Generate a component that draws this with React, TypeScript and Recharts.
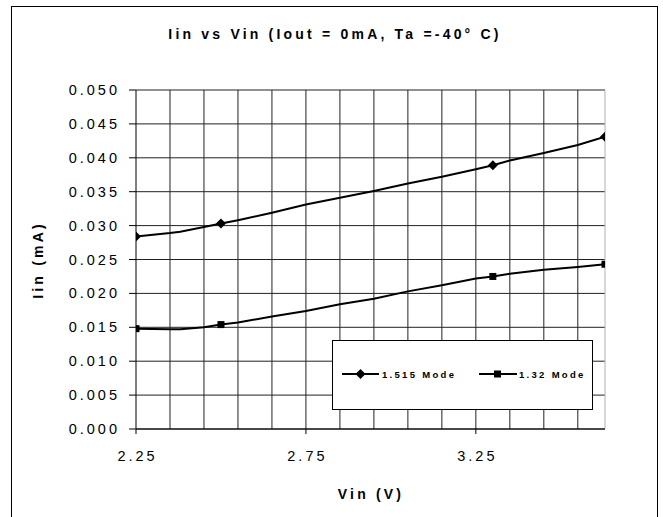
import React from 'react';
import { ComposedChart, Line, Scatter, XAxis, YAxis, CartesianGrid, ReferenceLine } from 'recharts';

// Vin (V) sample points
const vin = [2.25, 2.35, 2.38, 2.45, 2.5, 2.55, 2.65, 2.75, 2.85, 2.95, 3.05, 3.15, 3.25, 3.3, 3.35, 3.45, 3.55, 3.63];
// Iin (mA)
const mode1515 = [0.0284, 0.0289, 0.0291, 0.0298, 0.0303, 0.0308, 0.0319, 0.0331, 0.0341, 0.0351, 0.0362, 0.0372, 0.0383, 0.0389, 0.0396, 0.0407, 0.0419, 0.0431];
const mode132 = [0.0148, 0.0147, 0.0147, 0.015, 0.0154, 0.0157, 0.0166, 0.0174, 0.0184, 0.0192, 0.0203, 0.0212, 0.0222, 0.0225, 0.0229, 0.0235, 0.0239, 0.0243];
// points that carry a marker
const markerVin = [2.25, 2.5, 3.3, 3.63];

const xTicks = [2.25, 2.75, 3.25];
const xGrid = [2.35, 2.45, 2.55, 2.65, 2.75, 2.85, 2.95, 3.05, 3.15, 3.25, 3.35, 3.45, 3.55];
const yTicks = [0, 0.005, 0.01, 0.015, 0.02, 0.025, 0.03, 0.035, 0.04, 0.045, 0.05];

const FONT = '"Liberation Sans", Arial, sans-serif';

const rows1515 = vin.map((v, i) => ({ vin: v, iin: mode1515[i] }));
const rows132 = vin.map((v, i) => ({ vin: v, iin: mode132[i] }));
const marks1515 = rows1515.filter((r) => markerVin.includes(r.vin));
const marks132 = rows132.filter((r) => markerVin.includes(r.vin));

const Diamond = ({ cx, cy }: any) => (
    <polygon points={`${cx},${cy - 5} ${cx + 5},${cy} ${cx},${cy + 5} ${cx - 5},${cy}`} fill="#000" />
);

const Square = ({ cx, cy }: any) => <rect x={cx - 3.5} y={cy - 3.5} width={7} height={7} fill="#000" />;

const YTick = ({ x, y, payload }: any) => (
    <text x={x} y={y} dy={5} textAnchor="end" fontFamily={FONT} fontSize={14.5} letterSpacing={3} fill="#000">
        {payload.value.toFixed(3)}
    </text>
);

const XTick = ({ x, payload }: any) => (
    <text x={x} dx={1.5} y={461} textAnchor="middle" fontFamily={FONT} fontSize={14.5} letterSpacing={3} fill="#000">
        {payload.value.toFixed(2)}
    </text>
);

const labelStyle: React.CSSProperties = {
    position: 'absolute',
    fontFamily: FONT,
    fontWeight: 'bold',
    fontSize: 14,
    letterSpacing: 3.2,
    whiteSpace: 'nowrap',
    color: '#000',
    lineHeight: 1,
};

export default function App() {
    return (
        <div style={{ position: 'absolute', left: 0, top: 0, width: 663, height: 517, overflow: 'hidden', background: '#fff' }}>
            <div style={{ position: 'absolute', left: 11, top: 6, width: 647, height: 520, boxSizing: 'border-box', border: '1px solid #000' }} />
            <div style={{ ...labelStyle, left: 335, top: 27, transform: 'translateX(-50%)' }}>Iin vs Vin (Iout = 0mA, Ta =-40° C)</div>
            <div style={{ ...labelStyle, left: 371, top: 487, transform: 'translateX(-50%)' }}>Vin (V)</div>
            <div style={{ ...labelStyle, left: 38, top: 260, transform: 'translate(-50%, -50%) rotate(-90deg)' }}>Iin (mA)</div>

            <div style={{ position: 'absolute', left: 0, top: 0 }}>
                <ComposedChart width={663} height={517} margin={{ top: 90, right: 58, bottom: 58, left: 76 }}>
                    <CartesianGrid stroke="#222" verticalValues={xGrid} />
                    <XAxis
                        type="number"
                        dataKey="vin"
                        domain={[2.25, 3.63]}
                        ticks={xTicks}
                        height={30}
                        tickSize={5}
                        tick={<XTick />}
                        stroke="#000"
                        allowDataOverflow
                    />
                    <YAxis
                        type="number"
                        dataKey="iin"
                        domain={[0, 0.05]}
                        ticks={yTicks}
                        width={60}
                        tickSize={7}
                        tickMargin={9}
                        tick={<YTick />}
                        stroke="#000"
                        allowDataOverflow
                    />
                    <ReferenceLine x={3.63} stroke="#b0b0b0" />
                    <Line data={rows1515} dataKey="iin" type="linear" stroke="#000" strokeWidth={2} dot={false} isAnimationActive={false} />
                    <Line data={rows132} dataKey="iin" type="linear" stroke="#000" strokeWidth={2} dot={false} isAnimationActive={false} />
                    <Scatter data={marks1515} dataKey="iin" shape={<Diamond />} isAnimationActive={false} />
                    <Scatter data={marks132} dataKey="iin" shape={<Square />} isAnimationActive={false} />
                </ComposedChart>
            </div>

            <div style={{ position: 'absolute', left: 332, top: 340, width: 261, height: 70, boxSizing: 'border-box', border: '1px solid #000', background: '#fff' }}>
                <svg width={259} height={68} style={{ position: 'absolute', left: 0, top: 0 }}>
                    <line x1={9} x2={46} y1={33} y2={33} stroke="#000" strokeWidth={2} />
                    <Diamond cx={27.5} cy={33} />
                    <text x={49} y={37} fontFamily={FONT} fontWeight="bold" fontSize={9.5} letterSpacing={2.3}>1.515 Mode</text>
                    <line x1={146} x2={184} y1={33} y2={33} stroke="#000" strokeWidth={2} />
                    <Square cx={164.5} cy={33} />
                    <text x={186} y={37} fontFamily={FONT} fontWeight="bold" fontSize={9.5} letterSpacing={2.3}>1.32 Mode</text>
                </svg>
            </div>
        </div>
    );
}
